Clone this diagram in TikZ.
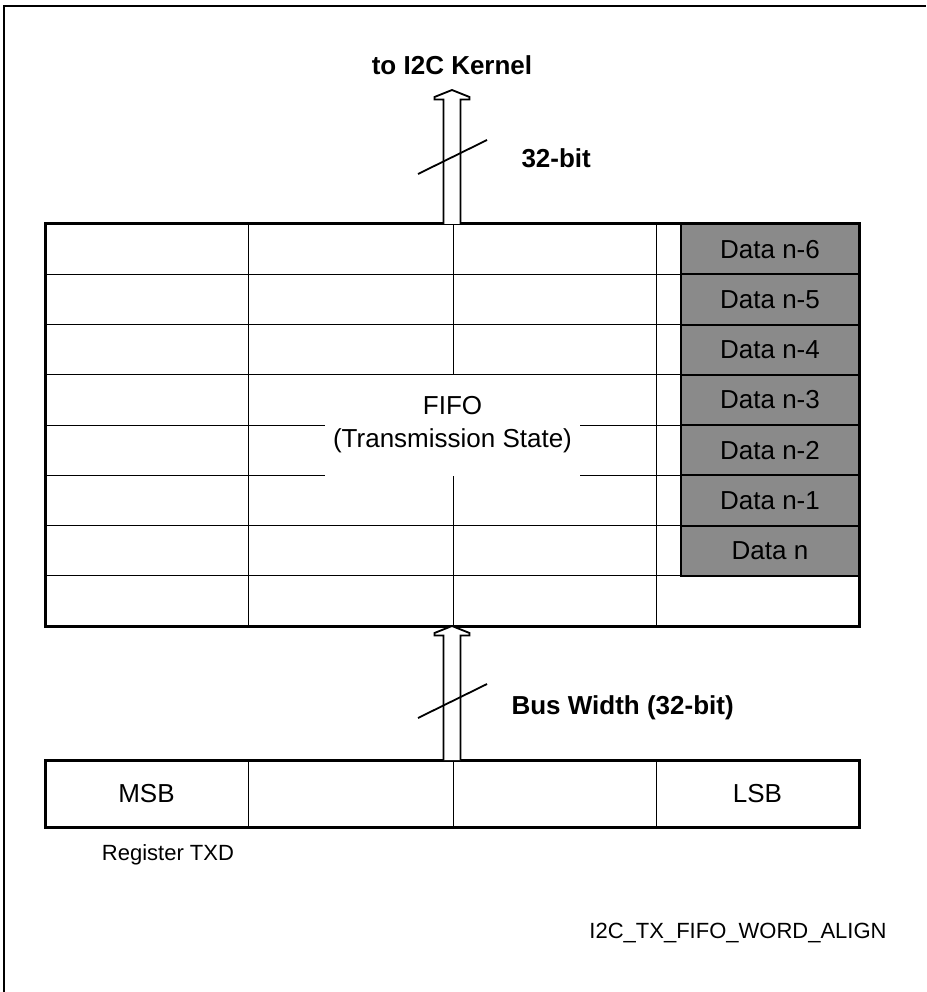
\documentclass[tikz,border=0pt]{standalone}
\usepackage{fontspec}
\setmainfont{Liberation Sans}
\usetikzlibrary{positioning}
\definecolor{datagray}{RGB}{138,138,138}

\begin{document}
\begin{tikzpicture}[
    x=1pt, y=-1pt,
    frame/.style={line width=2pt},
    fifobox/.style={rectangle, draw, line width=3pt, minimum width=814pt, minimum height=402pt, inner sep=0pt, outer sep=0pt},
    regbox/.style={rectangle, draw, line width=3pt, minimum width=814pt, minimum height=67pt, inner sep=0pt, outer sep=0pt},
    grid/.style={line width=1pt},
    datacell/.style={rectangle, draw, line width=2pt, fill=datagray, minimum width=178pt, minimum height=50.25pt, inner sep=0pt, outer sep=0pt, font=\fontsize{26}{30}\selectfont},
    celltext/.style={font=\fontsize{26}{30}\selectfont},
    fifolabel/.style={rectangle, fill=white, minimum width=255pt, minimum height=101pt, align=center, font=\fontsize{26}{33}\selectfont},
    bustext/.style={font=\bfseries\fontsize{26}{30}\selectfont},
    smalltext/.style={font=\fontsize{22}{26}\selectfont},
    bus/.style={line width=1.8pt, fill=white, line join=miter},
    slash/.style={line width=1.8pt}
]
\useasboundingbox (0,0) rectangle (926,992);
\draw[frame] (4,992) -- (4,6) -- (926,6);

% FIFO
\node[fifobox] (fifo) at (452,425) {};
\foreach \r in {1,...,7}
  \draw[grid] ([yshift=-\r*50.25pt]fifo.north west) -- ([yshift=-\r*50.25pt]fifo.north east);
\foreach \c in {203,408,611}
  \draw[grid] ([xshift=\c pt]fifo.north west) -- ([xshift=\c pt]fifo.south west);

\node[datacell, anchor=north east] (d6) at (fifo.north east) {Data n-6};
\node[datacell, below=0pt of d6] (d5) {Data n-5};
\node[datacell, below=0pt of d5] (d4) {Data n-4};
\node[datacell, below=0pt of d4] (d3) {Data n-3};
\node[datacell, below=0pt of d3] (d2) {Data n-2};
\node[datacell, below=0pt of d2] (d1) {Data n-1};
\node[datacell, below=0pt of d1] (d0) {Data n};

\node[fifolabel] (fifoname) at (452.5,425) {FIFO\\(Transmission State)};

% register
\node[regbox, below=134pt of fifo] (reg) {};
\foreach \c in {203,408,611}
  \draw[grid] ([xshift=\c pt]reg.north west) -- ([xshift=\c pt]reg.south west);
\node[celltext] (msb) at ([xshift=101.5pt]reg.west) {MSB};
\node[celltext] (lsb) at ([xshift=-101.5pt]reg.east) {LSB};
\node[smalltext] (regname) at ([xshift=123pt,yshift=-28pt]reg.south west) {Register TXD};

% buses
\coordinate (kernel) at ([yshift=134pt]fifo.north);
\node[bustext, anchor=base] (kernelname) at ([yshift=15pt]kernel) {to I2C Kernel};
\draw[bus] ([xshift=-8.5pt]fifo.north) -- ([xshift=-8.5pt,yshift=-9.5pt]kernel)
  -- ([xshift=-17.5pt,yshift=-9.5pt]kernel) -- ([xshift=-17.5pt,yshift=-7pt]kernel)
  -- (kernel) -- ([xshift=17.5pt,yshift=-7pt]kernel) -- ([xshift=17.5pt,yshift=-9.5pt]kernel)
  -- ([xshift=8.5pt,yshift=-9.5pt]kernel) -- ([xshift=8.5pt]fifo.north);
\coordinate (topmid) at ([yshift=67pt]fifo.north);
\draw[slash] ([xshift=-34pt,yshift=-17pt]topmid) -- ([xshift=35pt,yshift=17pt]topmid);
\node[bustext, anchor=west] (topwidth) at ([xshift=66pt,yshift=-1pt]topmid) {32-bit};

\draw[bus] ([xshift=-8.5pt]reg.north) -- ([xshift=-8.5pt,yshift=-9.5pt]fifo.south)
  -- ([xshift=-17.5pt,yshift=-9.5pt]fifo.south) -- ([xshift=-17.5pt,yshift=-7pt]fifo.south)
  -- (fifo.south) -- ([xshift=17.5pt,yshift=-7pt]fifo.south) -- ([xshift=17.5pt,yshift=-9.5pt]fifo.south)
  -- ([xshift=8.5pt,yshift=-9.5pt]fifo.south) -- ([xshift=8.5pt]reg.north);
\coordinate (botmid) at ([yshift=-75pt]fifo.south);
\draw[slash] ([xshift=-34pt,yshift=-17pt]botmid) -- ([xshift=35pt,yshift=17pt]botmid);
\node[bustext, anchor=west] (botwidth) at ([xshift=56pt,yshift=-7pt]botmid) {Bus Width (32-bit)};

\node[smalltext] (figname) at (738,933) {I2C\_TX\_FIFO\_WORD\_ALIGN};
\end{tikzpicture}
\end{document}
